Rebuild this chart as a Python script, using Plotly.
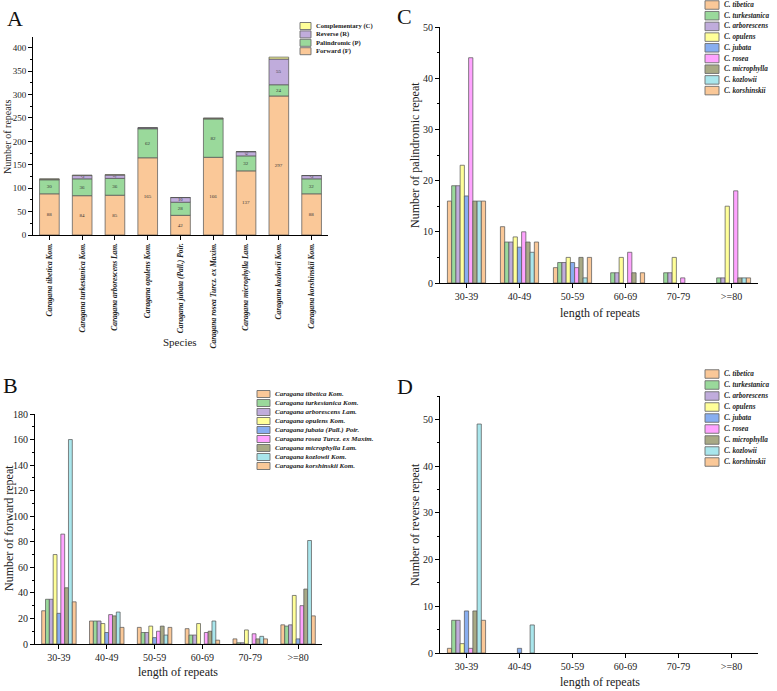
import plotly.graph_objects as go
import numpy as np

W, H = 777, 691
FONT = "Liberation Serif"

species_full = ["Caragana tibetica Kom.", "Caragana turkestanica Kom.", "Caragana arborescens Lam.",
                "Caragana opulens Kom.", "Caragana jubata (Pall.) Poir.", "Caragana rosea Turcz. ex Maxim.",
                "Caragana microphylla Lam.", "Caragana kozlowii Kom.", "Caragana korshinskii Kom."]
species_short = ["C. tibetica", "C. turkestanica", "C. arborescens", "C. opulens", "C. jubata",
                 "C. rosea", "C. microphylla", "C. kozlowii", "C. korshinskii"]
length_bins = ["30-39", "40-49", "50-59", "60-69", "70-79", ">=80"]

# forward repeats per species (rows) and length bin (columns)
forward_counts = [
    [26, 18, 13, 12, 4, 15],
    [35, 18, 9, 7, 1, 14],
    [35, 18, 9, 7, 1, 15],
    [70, 16, 14, 16, 11, 38],
    [24, 9, 5, 0, 0, 4],
    [86, 23, 10, 9, 8, 30],
    [44, 22, 14, 10, 4, 43],
    [160, 25, 7, 18, 6, 81],
    [33, 13, 13, 3, 4, 22],
]
palindromic_counts = [
    [16, 11, 3, 0, 0, 0],
    [19, 8, 4, 2, 2, 1],
    [19, 8, 4, 2, 2, 1],
    [23, 9, 5, 5, 5, 15],
    [17, 7, 4, 0, 0, 0],
    [44, 10, 3, 6, 1, 18],
    [16, 8, 5, 2, 0, 1],
    [16, 6, 1, 0, 0, 1],
    [16, 8, 5, 2, 0, 1],
]
reverse_counts = [
    [1, 0, 0, 0, 0, 0],
    [7, 0, 0, 0, 0, 0],
    [7, 0, 0, 0, 0, 0],
    [2, 0, 0, 0, 0, 0],
    [9, 1, 0, 0, 0, 0],
    [1, 0, 0, 0, 0, 0],
    [9, 0, 0, 0, 0, 0],
    [49, 6, 0, 0, 0, 0],
    [7, 0, 0, 0, 0, 0],
]
complementary_total = [1, 1, 1, 0, 0, 1, 0, 4, 0]

species_colors = ["#FAC898", "#9AD99B", "#C0ACDC", "#FFFF99", "#88AEF0",
                  "#FFA3FF", "#A8A985", "#A9E6EC", "#FAC898"]
type_names = ["Forward (F)", "Palindromic (P)", "Reverse (R)", "Complementary (C)"]
type_colors = ["#FAC898", "#9AD99B", "#C0ACDC", "#FFFF99"]

EDGE = "rgba(85,85,85,0.9)"

def px(xp):
    return xp / W

def py(yp):
    return 1 - yp / H

fig = go.Figure()

# ---------- Panel A: stacked totals ----------
totals = [
    np.array(forward_counts).sum(axis=1),
    np.array(palindromic_counts).sum(axis=1),
    np.array(reverse_counts).sum(axis=1),
    np.array(complementary_total),
]
base = np.zeros(len(species_full))
for name, col, vals in zip(type_names, type_colors, totals):
    fig.add_trace(go.Bar(
        x=species_full, y=vals, base=base.copy(), name=name,
        marker=dict(color=col, line=dict(color=EDGE, width=0.8)),
        width=0.6, offset=-0.3, offsetgroup="A",
        text=[str(v) if v >= 5 else "" for v in vals],
        textposition="inside", insidetextanchor="middle",
        textfont=dict(size=5, color="#333", family=FONT),
        xaxis="x", yaxis="y", showlegend=False,
    ))
    base = base + vals

# ---------- Panels B, C, D: grouped ----------
for data, xa, ya in [(forward_counts, "x2", "y2"), (palindromic_counts, "x3", "y3"),
                     (reverse_counts, "x4", "y4")]:
    for i, sp in enumerate(species_short):
        fig.add_trace(go.Bar(
            x=length_bins, y=[v if v else None for v in data[i]], name=sp,
            marker=dict(color=species_colors[i], line=dict(color=EDGE, width=0.8)),
            xaxis=xa, yaxis=ya, showlegend=False,
        ))

tickfont = dict(family=FONT, size=10, color="#222")

def yax(domain, rng, dtick, minor, anchor, size=10):
    return dict(domain=domain, range=rng, dtick=dtick, tick0=0, anchor=anchor,
                showline=True, linecolor="black", linewidth=1, ticks="outside",
                ticklen=4, tickcolor="black", showgrid=False, zeroline=False,
                tickfont=dict(family=FONT, size=size, color="#222"),
                minor=dict(dtick=minor, ticks="outside", ticklen=2, tickcolor="black"),
                automargin=False, fixedrange=True)

def xax(domain, rng, anchor, tf=None, angle=0):
    return dict(domain=domain, range=rng, anchor=anchor, type="category",
                showline=True, linecolor="black", linewidth=1, ticks="outside",
                ticklen=4, tickcolor="black", showgrid=False, zeroline=False,
                tickfont=tf or tickfont, tickangle=angle, automargin=False)

def xbound(overlay, rng, anchor, n):
    return dict(overlaying=overlay, range=rng, anchor=anchor, side="bottom",
                showline=False, showgrid=False, zeroline=False, showticklabels=False,
                ticks="outside", ticklen=2.5, tickcolor="black",
                tickvals=[k - 0.5 for k in range(n + 1)], automargin=False)

dA_x = [px(33), px(328)]
dA_y = [py(235), py(37)]
dB_x = [px(35), px(322)]
dB_y = [py(644), py(414)]
dC_x = [px(440), px(758)]
dC_y = [py(283), py(27)]
dD_x = [px(440), px(758)]
dD_y = [py(653), py(396)]

fig.update_layout(
    width=W, height=H, margin=dict(l=0, r=0, t=0, b=0),
    paper_bgcolor="white", plot_bgcolor="white",
    barmode="group", bargap=0.28, bargroupgap=0,
    font=dict(family=FONT, color="#222"),
    showlegend=False,
    xaxis=xax(dA_x, [-0.5, 8.5], "y",
              tf=dict(family=FONT, size=7.5, color="#222", weight="bold", style="italic"),
              angle=-90),
    yaxis=yax(dA_y, [0, 423], 50, 25, "x", size=9),
    xaxis2=xax(dB_x, [-0.5, 5.5], "y2"),
    yaxis2=yax(dB_y, [0, 180], 20, 10, "x2"),
    xaxis3=xax(dC_x, [-0.5, 5.5], "y3"),
    yaxis3=yax(dC_y, [0, 50], 10, 5, "x3"),
    xaxis4=xax(dD_x, [-0.5, 5.5], "y4"),
    yaxis4=yax(dD_y, [0, 55], 10, 5, "x4"),
    xaxis5=xbound("x", [-0.5, 8.5], "y", 9),
    xaxis6=xbound("x2", [-0.5, 5.5], "y2", 6),
    xaxis7=xbound("x3", [-0.5, 5.5], "y3", 6),
    xaxis8=xbound("x4", [-0.5, 5.5], "y4", 6),
)

ann = []
shapes = []

def text(x, y, s, size, angle=0, xanchor="center", yanchor="middle", color="#222"):
    ann.append(dict(x=px(x), y=py(y), xref="paper", yref="paper", text=s, showarrow=False,
                    font=dict(family=FONT, size=size, color=color), textangle=angle,
                    xanchor=xanchor, yanchor=yanchor))

# panel letters
text(15, 19, "A", 22, color="#111")
text(10, 385, "B", 22, color="#111")
text(405, 16, "C", 22, color="#111")
text(405, 386, "D", 22, color="#111")

# axis titles
text(8, 137, "Number of repeats", 10, angle=-90)
text(180, 342, "Species", 11)
text(9, 528, "Number of forward repeat", 12, angle=-90)
text(178, 672, "length of repeats", 12)
text(415, 155, "Number of palindromic repeat", 12, angle=-90)
text(600, 313, "length of repeats", 12)
text(415, 525, "Number of reverse repeat", 12, angle=-90)
text(600, 682, "length of repeats", 12)

def legend(names, colors, x0, y0, sw, sh, step, fsize, italic):
    for k, (nm, col) in enumerate(zip(names, colors)):
        yc = y0 + k * step
        shapes.append(dict(type="rect", xref="paper", yref="paper",
                           x0=px(x0), x1=px(x0 + sw), y0=py(yc + sh / 2), y1=py(yc - sh / 2),
                           fillcolor=col, line=dict(color="rgba(110,110,110,0.9)", width=1)))
        label = f"<b><i>{nm}</i></b>" if italic else f"<b>{nm}</b>"
        text(x0 + sw + 3, yc, label, fsize, xanchor="left")

legend(type_names[::-1], type_colors[::-1], 300, 26, 11, 7, 8.4, 6.6, False)
legend(species_full, species_colors, 257, 394, 13, 7, 9.0, 7, True)
legend(species_short, species_colors, 705, 5, 14, 8.5, 10.7, 7.2, True)
legend(species_short, species_colors, 705, 374, 14, 8.5, 11.0, 7.2, True)

fig.update_layout(annotations=ann, shapes=shapes)
fig.write_html("out.html", config={"displayModeBar": False},
               post_script="document.body.style.margin='0';document.body.style.padding='0';")
